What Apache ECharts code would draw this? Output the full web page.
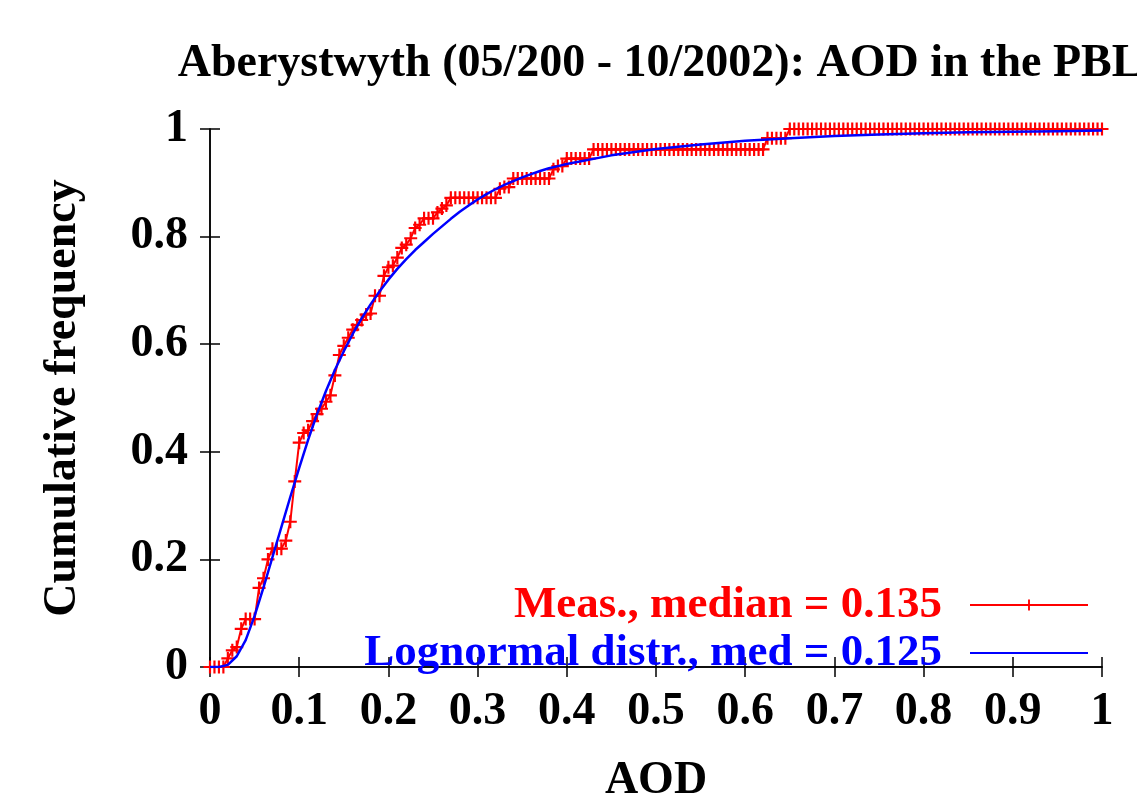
<!DOCTYPE html>
<html>
<head>
<meta charset="utf-8">
<script src="https://cdn.jsdelivr.net/npm/echarts@6/dist/echarts.min.js"></script>
<style>
  html, body { margin: 0; padding: 0; background: #fff; overflow: hidden; }
  #main { width: 1137px; height: 809px; }
</style>
</head>
<body>
<div id="main"></div>
<script>
"use strict";
// measured cumulative frequency, sampled every 0.005 in AOD
var measX = [
  0, 0.005, 0.01, 0.015, 0.02, 0.025, 0.03, 0.035, 0.04, 0.045,
  0.05, 0.055, 0.06, 0.065, 0.07, 0.075, 0.08, 0.085, 0.09, 0.095,
  0.1, 0.105, 0.11, 0.115, 0.12, 0.125, 0.13, 0.135, 0.14, 0.145,
  0.15, 0.155, 0.16, 0.165, 0.17, 0.175, 0.18, 0.185, 0.19, 0.195,
  0.2, 0.205, 0.21, 0.215, 0.22, 0.225, 0.23, 0.235, 0.24, 0.245,
  0.25, 0.255, 0.26, 0.265, 0.27, 0.275, 0.28, 0.285, 0.29, 0.295,
  0.3, 0.305, 0.31, 0.315, 0.32, 0.325, 0.33, 0.335, 0.34, 0.345,
  0.35, 0.355, 0.36, 0.365, 0.37, 0.375, 0.38, 0.385, 0.39, 0.395,
  0.4, 0.405, 0.41, 0.415, 0.42, 0.425, 0.43, 0.435, 0.44, 0.445,
  0.45, 0.455, 0.46, 0.465, 0.47, 0.475, 0.48, 0.485, 0.49, 0.495,
  0.5, 0.505, 0.51, 0.515, 0.52, 0.525, 0.53, 0.535, 0.54, 0.545,
  0.55, 0.555, 0.56, 0.565, 0.57, 0.575, 0.58, 0.585, 0.59, 0.595,
  0.6, 0.605, 0.61, 0.615, 0.62, 0.625, 0.63, 0.635, 0.64, 0.645,
  0.65, 0.655, 0.66, 0.665, 0.67, 0.675, 0.68, 0.685, 0.69, 0.695,
  0.7, 0.705, 0.71, 0.715, 0.72, 0.725, 0.73, 0.735, 0.74, 0.745,
  0.75, 0.755, 0.76, 0.765, 0.77, 0.775, 0.78, 0.785, 0.79, 0.795,
  0.8, 0.805, 0.81, 0.815, 0.82, 0.825, 0.83, 0.835, 0.84, 0.845,
  0.85, 0.855, 0.86, 0.865, 0.87, 0.875, 0.88, 0.885, 0.89, 0.895,
  0.9, 0.905, 0.91, 0.915, 0.92, 0.925, 0.93, 0.935, 0.94, 0.945,
  0.95, 0.955, 0.96, 0.965, 0.97, 0.975, 0.98, 0.985, 0.99, 0.995,
  1
];
var measY = [
  0, 0, 0, 0, 0.016, 0.031, 0.037, 0.071, 0.089, 0.089,
  0.089, 0.147, 0.165, 0.2, 0.22, 0.22, 0.22, 0.235, 0.27, 0.345,
  0.417, 0.435, 0.44, 0.457, 0.47, 0.48, 0.493, 0.505, 0.542, 0.58,
  0.597, 0.612, 0.627, 0.636, 0.645, 0.655, 0.657, 0.69, 0.69, 0.727,
  0.743, 0.746, 0.761, 0.779, 0.785, 0.797, 0.816, 0.822, 0.834, 0.834,
  0.834, 0.845, 0.852, 0.858, 0.872, 0.872, 0.872, 0.872, 0.872, 0.872,
  0.872, 0.872, 0.872, 0.872, 0.872, 0.889, 0.892, 0.892, 0.908, 0.908,
  0.908, 0.908, 0.908, 0.908, 0.908, 0.908, 0.908, 0.925, 0.931, 0.931,
  0.945, 0.945, 0.945, 0.945, 0.945, 0.945, 0.962, 0.962, 0.962, 0.962,
  0.962, 0.962, 0.962, 0.962, 0.962, 0.962, 0.962, 0.962, 0.962, 0.962,
  0.962, 0.962, 0.962, 0.962, 0.962, 0.962, 0.962, 0.962, 0.962, 0.962,
  0.962, 0.962, 0.962, 0.962, 0.962, 0.962, 0.962, 0.962, 0.962, 0.962,
  0.962, 0.962, 0.962, 0.962, 0.962, 0.983, 0.983, 0.983, 0.983, 0.983,
  1, 1, 1, 1, 1, 1, 1, 1, 1, 1,
  1, 1, 1, 1, 1, 1, 1, 1, 1, 1,
  1, 1, 1, 1, 1, 1, 1, 1, 1, 1,
  1, 1, 1, 1, 1, 1, 1, 1, 1, 1,
  1, 1, 1, 1, 1, 1, 1, 1, 1, 1,
  1, 1, 1, 1, 1, 1, 1, 1, 1, 1,
  1, 1, 1, 1, 1, 1, 1, 1, 1, 1,
  1
];
// lognormal fit
var fitX = [
  0, 0.01, 0.02, 0.03, 0.04, 0.05, 0.06, 0.07, 0.08, 0.09,
  0.1, 0.11, 0.12, 0.13, 0.14, 0.15, 0.16, 0.17, 0.18, 0.19,
  0.2, 0.21, 0.22, 0.23, 0.24, 0.25, 0.26, 0.27, 0.28, 0.29,
  0.3, 0.31, 0.32, 0.33, 0.34, 0.35, 0.36, 0.37, 0.38, 0.39,
  0.4, 0.45, 0.5, 0.55, 0.6, 0.65, 0.7, 0.75, 0.8, 0.85,
  0.9, 0.95, 1
];
var fitY = [
  0, 0, 0.004, 0.02, 0.05, 0.095, 0.148, 0.204, 0.26, 0.316,
  0.37, 0.422, 0.47, 0.513, 0.552, 0.587, 0.619, 0.648, 0.674, 0.698,
  0.72, 0.74, 0.758, 0.775, 0.79, 0.805, 0.819, 0.833, 0.846, 0.858,
  0.869, 0.879, 0.888, 0.896, 0.903, 0.91, 0.916, 0.922, 0.927, 0.931,
  0.935, 0.951, 0.963, 0.971, 0.978, 0.983, 0.987, 0.99, 0.992, 0.994,
  0.995, 0.996, 0.997
];
var xTicks = { min: 0, max: 1, interval: 0.1 };
var yTicks = { min: 0, max: 1, interval: 0.2 };
var measName = "Meas., median = 0.135";
var fitName = "Lognormal distr., med = 0.125";

var FONT = "'Liberation Serif', 'Times New Roman', serif";
var plus = "path://M5,0 H7 V5 H12 V7 H7 V12 H5 V7 H0 V5 H5 Z";

function pairs(xs, ys) {
    return xs.map(function (x, i) { return [x, ys[i]]; });
}

var chart = echarts.init(document.getElementById('main'), null, { width: 1137, height: 809 });

var axisBase = {
    type: 'value',
    axisLine: { show: true, lineStyle: { color: '#000', width: 1.5 } },
    axisTick: { show: true, inside: true, length: 10, lineStyle: { color: '#000', width: 1.5 } },
    splitLine: { show: false }
};

chart.setOption({
    animation: false,
    title: {
        text: 'Aberystwyth (05/200 - 10/2002): AOD in the PBL',
        left: 655,
        textAlign: 'center',
        top: 36,
        textStyle: { fontFamily: FONT, fontWeight: 'bold', fontSize: 46, color: '#000' }
    },
    grid: { left: 210, top: 129, width: 892, height: 548, containLabel: false },
    legend: {
        orient: 'vertical',
        right: 43,
        top: 577,
        align: 'right',
        itemWidth: 118,
        itemHeight: 14,
        itemGap: 2,
        selectedMode: false,
        textStyle: { fontFamily: FONT, fontWeight: 'bold', fontSize: 45, lineHeight: 46, padding: [0, 23, 0, 0] },
        data: [
            { name: measName, textStyle: { color: '#ff0000' } },
            { name: fitName, textStyle: { color: '#0000ff' }, itemStyle: { color: 'rgba(0,0,0,0)', borderWidth: 0 } }
        ]
    },
    xAxis: [
        Object.assign({}, axisBase, {
            min: xTicks.min, max: xTicks.max, interval: xTicks.interval,
            name: 'AOD', nameLocation: 'middle', nameGap: 91,
            nameTextStyle: { fontFamily: FONT, fontWeight: 'bold', fontSize: 46, color: '#000' },
            axisLabel: { margin: 22, fontFamily: FONT, fontWeight: 'bold', fontSize: 46, color: '#000' }
        }),
        Object.assign({}, axisBase, {
            position: 'top', min: xTicks.min, max: xTicks.max, interval: xTicks.interval,
            axisLabel: { show: false }
        })
    ],
    yAxis: [
        Object.assign({}, axisBase, {
            min: yTicks.min, max: yTicks.max, interval: yTicks.interval,
            name: 'Cumulative frequency', nameLocation: 'middle', nameGap: 124,
            nameTextStyle: { fontFamily: FONT, fontWeight: 'bold', fontSize: 46, color: '#000' },
            axisLabel: { margin: 22, fontFamily: FONT, fontWeight: 'bold', fontSize: 46, color: '#000' }
        }),
        Object.assign({}, axisBase, {
            position: 'right', min: yTicks.min, max: yTicks.max, interval: yTicks.interval,
            axisLabel: { show: false }
        })
    ],
    series: [
        {
            name: measName,
            type: 'line',
            data: pairs(measX, measY),
            symbol: plus,
            symbolSize: 13,
            showAllSymbol: true,
            itemStyle: { color: '#ff0000' },
            lineStyle: { color: '#ff0000', width: 2 },
            z: 2
        },
        {
            name: fitName,
            type: 'line',
            data: pairs(fitX, fitY),
            showSymbol: false,
            symbol: 'none',
            itemStyle: { color: '#0000ff' },
            lineStyle: { color: '#0000ff', width: 2.5 },
            z: 3
        }
    ]
});
</script>
</body>
</html>
